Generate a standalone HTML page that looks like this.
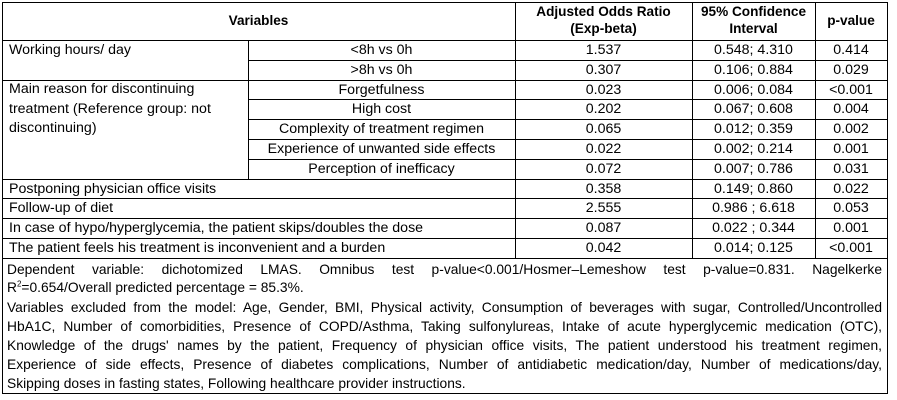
<!DOCTYPE html>
<html><head><meta charset="utf-8"><style>
body{margin:0;width:897px;height:400px;background:#fff;position:relative;overflow:hidden;font-family:"Liberation Sans",sans-serif;font-size:14.2px;color:#000}
.h{position:absolute;height:1px;background:#000}
.v{position:absolute;width:1px;background:#000}
.t{position:absolute;white-space:nowrap;line-height:20px;height:20px}
.c{text-align:center}
.b{font-weight:bold;font-size:13.6px}
.f{position:absolute;left:7px;width:875px;height:19px;line-height:19px;white-space:nowrap;overflow:hidden;font-size:13.8px}
.j{text-align:justify;text-align-last:justify;white-space:normal}
</style></head><body>
<div class="h" style="left:2px;top:2px;width:886px"></div>
<div class="h" style="left:2px;top:393px;width:886px"></div>
<div class="v" style="left:2px;top:2px;height:392px"></div>
<div class="v" style="left:887px;top:2px;height:392px"></div>
<div class="h" style="left:2px;top:40px;width:886px"></div>
<div class="h" style="left:248px;top:60px;width:640px"></div>
<div class="h" style="left:2px;top:80px;width:886px"></div>
<div class="h" style="left:248px;top:99px;width:640px"></div>
<div class="h" style="left:248px;top:119px;width:640px"></div>
<div class="h" style="left:248px;top:139px;width:640px"></div>
<div class="h" style="left:248px;top:159px;width:640px"></div>
<div class="h" style="left:2px;top:179px;width:886px"></div>
<div class="h" style="left:2px;top:198px;width:886px"></div>
<div class="h" style="left:2px;top:218px;width:886px"></div>
<div class="h" style="left:2px;top:238px;width:886px"></div>
<div class="h" style="left:2px;top:258px;width:886px"></div>
<div class="v" style="left:248px;top:40px;height:139px"></div>
<div class="v" style="left:515px;top:2px;height:256px"></div>
<div class="v" style="left:692px;top:2px;height:256px"></div>
<div class="v" style="left:815px;top:2px;height:256px"></div>
<div class="t c b" style="left:2px;width:513px;top:11px">Variables</div>
<div class="t c b" style="left:515px;width:177px;top:3px;line-height:17px;height:36px;white-space:normal">Adjusted Odds Ratio<br>(Exp-beta)</div>
<div class="t c b" style="left:692px;width:123px;top:3px;line-height:17px;height:36px;white-space:normal">95% Confidence<br>Interval</div>
<div class="t c b" style="left:815px;width:72px;top:11px">p-value</div>
<div class="t" style="left:9px;top:40px">Working hours/ day</div>
<div class="t" style="left:9px;top:80px;line-height:19.5px;height:60px;white-space:normal;width:236px">Main reason for discontinuing<br>treatment (Reference group: not<br>discontinuing)</div>
<div class="t" style="left:9px;top:179px">Postponing physician office visits</div>
<div class="t" style="left:9px;top:198px">Follow-up of diet</div>
<div class="t" style="left:9px;top:218px">In case of hypo/hyperglycemia, the patient skips/doubles the dose</div>
<div class="t" style="left:9px;top:238px">The patient feels his treatment is inconvenient and a burden</div>
<div class="t c" style="left:248px;width:267px;top:40px">&lt;8h vs 0h</div>
<div class="t c" style="left:248px;width:267px;top:60px">&gt;8h vs 0h</div>
<div class="t c" style="left:248px;width:267px;top:80px">Forgetfulness</div>
<div class="t c" style="left:248px;width:267px;top:99px">High cost</div>
<div class="t c" style="left:248px;width:267px;top:119px">Complexity of treatment regimen</div>
<div class="t c" style="left:248px;width:267px;top:139px">Experience of unwanted side effects</div>
<div class="t c" style="left:248px;width:267px;top:159px">Perception of inefficacy</div>
<div id="vals"></div>
<script>
const tops=[40,60,80,99,119,139,159,179,198,218,238];
const ors=["1.537","0.307","0.023","0.202","0.065","0.022","0.072","0.358","2.555","0.087","0.042"];
const cis=["0.548; 4.310","0.106; 0.884","0.006; 0.084","0.067; 0.608","0.012; 0.359","0.002; 0.214","0.007; 0.786","0.149; 0.860","0.986 ; 6.618","0.022 ; 0.344","0.014; 0.125"];
const ps=["0.414","0.029","<0.001","0.004","0.002","0.001","0.031","0.022","0.053","0.001","<0.001"];
const host=document.getElementById('vals');
function cell(txt,l,w,t,name){const d=document.createElement('div');d.className='t c';d.style.left=l+'px';d.style.width=w+'px';d.style.top=t+'px';d.textContent=txt;


host.appendChild(d);}
for(let i=0;i<ors.length;i++){cell(ors[i],515,177,tops[i],'odds-ratio-cell');cell(cis[i],692,123,tops[i],'ci-cell');cell(ps[i],815,72,tops[i],'p-value-cell');}
</script>
<div class="f j" style="top:260px">Dependent variable: dichotomized LMAS. Omnibus test p-value&lt;0.001/Hosmer–Lemeshow test p-value=0.831. Nagelkerke</div>
<div class="f" style="top:278px">R<sup style="font-size:8px;line-height:0">2</sup>=0.654/Overall predicted percentage = 85.3%.</div>
<div class="f j" style="top:298px">Variables excluded from the model: Age, Gender, BMI, Physical activity, Consumption of beverages with sugar, Controlled/Uncontrolled</div>
<div class="f j" style="top:317px">HbA1C, Number of comorbidities, Presence of COPD/Asthma, Taking sulfonylureas, Intake of acute hyperglycemic medication (OTC),</div>
<div class="f j" style="top:336px">Knowledge of the drugs' names by the patient, Frequency of physician office visits, The patient understood his treatment regimen,</div>
<div class="f j" style="top:355px">Experience of side effects, Presence of diabetes complications, Number of antidiabetic medication/day, Number of medications/day,</div>
<div class="f" style="top:374px">Skipping doses in fasting states, Following healthcare provider instructions.</div>
</body></html>
